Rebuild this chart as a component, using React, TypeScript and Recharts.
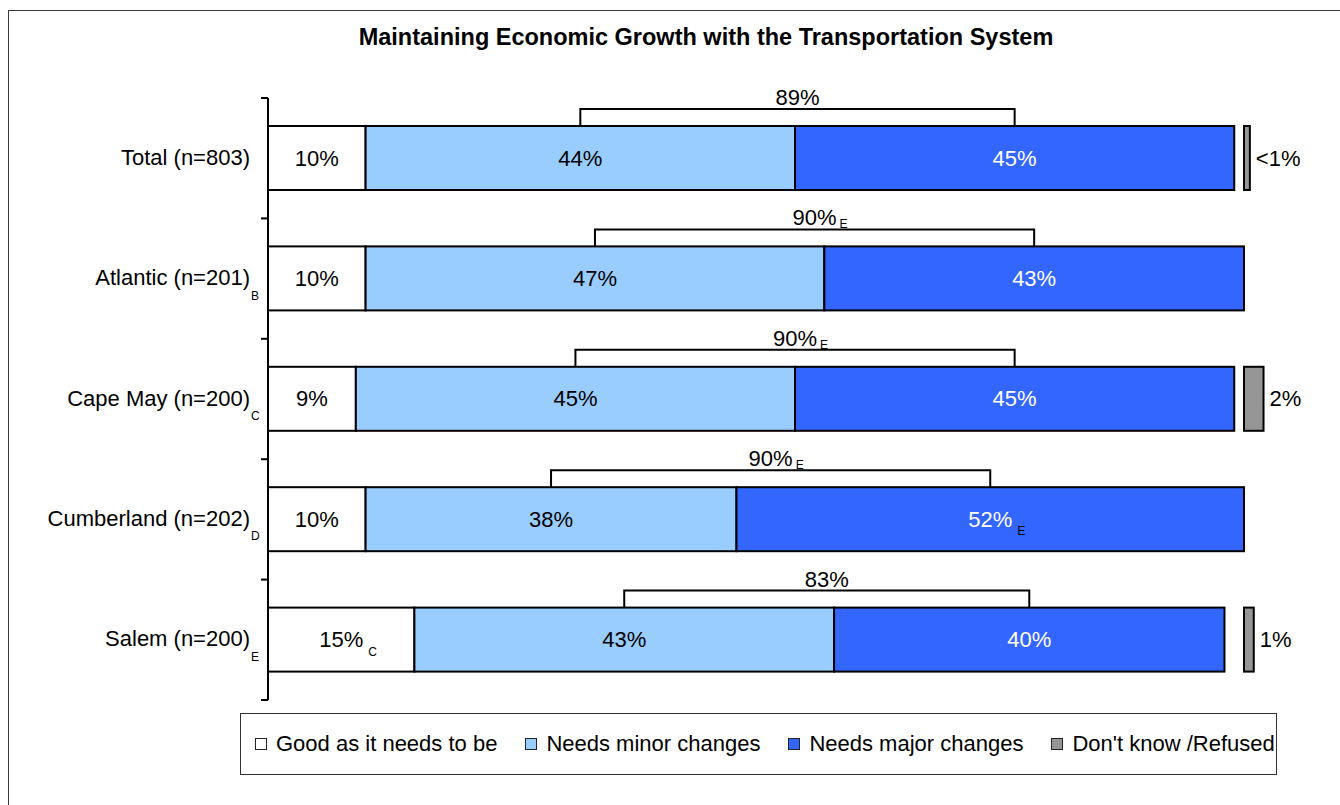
import React from "react";
import { BarChart, Bar, XAxis, YAxis, Legend } from "recharts";

// values (percent)
const categories = [
  "Total (n=803)",
  "Atlantic (n=201)",
  "Cape May (n=200)",
  "Cumberland (n=202)",
  "Salem (n=200)",
];
const categoryNotes = ["", "B", "C", "D", "E"];
const goodAsIs = [10, 10, 9, 10, 15];
const minorChanges = [44, 47, 45, 38, 43];
const majorChanges = [45, 43, 45, 52, 40];
const dontKnow = [0.6, 0, 2, 0, 1];
const goodNotes = ["", "", "", "", "C"];
const majorNotes = ["", "", "", "E", ""];
const netNotes = ["", "E", "E", "E", ""];

const SERIES = [
  { key: "good", name: "Good as it needs to be", color: "#FFFFFF" },
  { key: "minor", name: "Needs minor changes", color: "#99CCFF" },
  { key: "major", name: "Needs major changes", color: "#3366FF" },
  { key: "dk", name: "Don't know /Refused", color: "#969696" },
];

const FONT = "'Liberation Sans', Arial, sans-serif";
const FS = 22;
const W = 1340;
const H = 805;
const PLOT_LEFT = 268;
const PLOT_TOP = 98;
const PLOT_BOTTOM = 700;
const PX_PER_PCT = 9.76;
const X_MAX = 105;
const BAND = (PLOT_BOTTOM - PLOT_TOP) / categories.length;

const data = categories.map((name, i) => {
  const sum = goodAsIs[i] + minorChanges[i] + majorChanges[i];
  return {
    name,
    good: goodAsIs[i],
    minor: minorChanges[i],
    major: majorChanges[i],
    gap: dontKnow[i] > 0 ? Math.max(0, 100 - sum) : 0,
    dk: dontKnow[i],
  };
});

// rough Arial advance widths, enough to place the small note letters
const textWidth = (s: string, size: number) =>
  s.split("").reduce((w, c) => w + (c === "%" ? 0.889 : c === "<" ? 0.584 : 0.556), 0) * size;

const pct = (v: number) => (v < 1 ? "<1%" : `${Math.round(v)}%`);

function Note({ x, y, text }: { x: number; y: number; text: string }) {
  if (!text) return null;
  return (
    <text x={x} y={y} fontSize={12} fontFamily={FONT} fill="#000">
      {text}
    </text>
  );
}

const segment = (key: "good" | "minor" | "major", textColor: string, notes: string[]) =>
  (props: any) => {
    const { x, y, width, height, fill, index, payload } = props;
    if (!width || width <= 0) return null;
    const v = payload[key];
    const cx = x + width / 2;
    const cy = y + height / 2;
    const label = pct(v);
    const half = textWidth(label, FS) / 2;
    let bracket = null;
    if (key === "minor") {
      const per = width / v;
      const left = cx;
      const right = x + width + (payload.major * per) / 2;
      const top = y - 17;
      const net = `${v + payload.major}%`;
      const mid = (left + right) / 2;
      bracket = (
        <g>
          <path
            d={`M${left},${y} L${left},${top} L${right},${top} L${right},${y}`}
            fill="none"
            stroke="#000"
            strokeWidth={2}
          />
          <text x={mid} y={y - 21} textAnchor="middle" fontSize={FS} fontFamily={FONT} fill="#000">
            {net}
          </text>
          <Note x={mid + textWidth(net, FS) / 2 + 3} y={y - 18} text={netNotes[index]} />
        </g>
      );
    }
    return (
      <g>
        <rect x={x} y={y} width={width} height={height} fill={fill} stroke="#000" strokeWidth={2} />
        <text
          x={cx}
          y={cy}
          textAnchor="middle"
          dominantBaseline="central"
          fontSize={FS}
          fontFamily={FONT}
          fill={textColor}
        >
          {label}
        </text>
        <Note x={cx + half + 5} y={cy + 16} text={notes[index]} />
        {bracket}
      </g>
    );
  };

const dkShape = (props: any) => {
  const { x, y, width, height, fill, payload } = props;
  if (!payload.dk || width <= 0) return null;
  return (
    <g>
      <rect x={x} y={y} width={width} height={height} fill={fill} stroke="#000" strokeWidth={2} />
      <text
        x={x + width + 6}
        y={y + height / 2}
        dominantBaseline="central"
        fontSize={FS}
        fontFamily={FONT}
        fill="#000"
      >
        {pct(payload.dk)}
      </text>
    </g>
  );
};

const CategoryTick = (props: any) => {
  const { y, index, payload } = props;
  const last = index === categories.length - 1;
  return (
    <g>
      <line x1={PLOT_LEFT - 7} x2={PLOT_LEFT} y1={y - BAND / 2} y2={y - BAND / 2} stroke="#000" strokeWidth={2} />
      {last && (
        <line x1={PLOT_LEFT - 7} x2={PLOT_LEFT} y1={y + BAND / 2} y2={y + BAND / 2} stroke="#000" strokeWidth={2} />
      )}
      <text
        x={PLOT_LEFT - 18}
        y={y - 1}
        textAnchor="end"
        dominantBaseline="central"
        fontSize={FS}
        fontFamily={FONT}
        fill="#000"
      >
        {payload.value}
      </text>
      <Note x={PLOT_LEFT - 17} y={y + 21} text={categoryNotes[index]} />
    </g>
  );
};

const LegendBox = () => (
  <div
    style={{
      boxSizing: "border-box",
      width: 1037,
      height: 62,
      border: "1.5px solid #333",
      background: "#fff",
      display: "flex",
      alignItems: "center",
      paddingLeft: 14,
      fontFamily: FONT,
      fontSize: FS,
      color: "#000",
      whiteSpace: "nowrap",
    }}
  >
    {SERIES.map((s) => (
      <div key={s.key} style={{ display: "flex", alignItems: "center", marginRight: 28 }}>
        <span
          style={{
            boxSizing: "border-box",
            width: 12,
            height: 12,
            border: "1.5px solid #222",
            background: s.color,
            marginRight: 9,
          }}
        />
        {s.name}
      </div>
    ))}
  </div>
);

export default function App() {
  const plotWidth = X_MAX * PX_PER_PCT;
  return (
    <div style={{ position: "relative", width: W, height: H, overflow: "hidden", background: "#fff" }}>
      <style>{`body{margin:0;overflow:hidden}`}</style>
      <div
        style={{
          position: "absolute",
          left: 8,
          top: 10,
          width: 1400,
          height: 900,
          borderLeft: "1.5px solid #3a3a3a",
          borderTop: "1.5px solid #3a3a3a",
        }}
      />
      <div
        style={{
          position: "absolute",
          left: 0,
          top: 24,
          width: 1412,
          textAlign: "center",
          fontFamily: FONT,
          fontWeight: "bold",
          fontSize: 23.5,
          lineHeight: "27px",
          color: "#000",
        }}
      >
        Maintaining Economic Growth with the Transportation System
      </div>
      <div style={{ position: "absolute", left: 0, top: 0 }}>
        <BarChart
          width={W}
          height={H}
          data={data}
          layout="vertical"
          margin={{ top: PLOT_TOP, bottom: H - PLOT_BOTTOM, left: 0, right: W - PLOT_LEFT - plotWidth }}
          barSize={64}
        >
          <XAxis type="number" domain={[0, X_MAX]} hide />
          <YAxis
            type="category"
            dataKey="name"
            width={PLOT_LEFT}
            interval={0}
            axisLine={{ stroke: "#000", strokeWidth: 2 }}
            tickLine={false}
            tick={CategoryTick}
          />
          <Bar dataKey="good" name={SERIES[0].name} stackId="a" fill={SERIES[0].color} isAnimationActive={false} shape={segment("good", "#000", goodNotes)} />
          <Bar dataKey="minor" name={SERIES[1].name} stackId="a" fill={SERIES[1].color} isAnimationActive={false} shape={segment("minor", "#000", [])} />
          <Bar dataKey="major" name={SERIES[2].name} stackId="a" fill={SERIES[2].color} isAnimationActive={false} shape={segment("major", "#fff", majorNotes)} />
          <Bar dataKey="gap" stackId="a" fill="transparent" legendType="none" isAnimationActive={false} shape={() => null} />
          <Bar dataKey="dk" name={SERIES[3].name} stackId="a" fill={SERIES[3].color} isAnimationActive={false} shape={dkShape} />
          <Legend
            layout="horizontal"
            verticalAlign="middle"
            align="center"
            content={LegendBox}
            wrapperStyle={{ left: 240, top: 713, width: 1037, height: 62 }}
          />
        </BarChart>
      </div>
    </div>
  );
}
